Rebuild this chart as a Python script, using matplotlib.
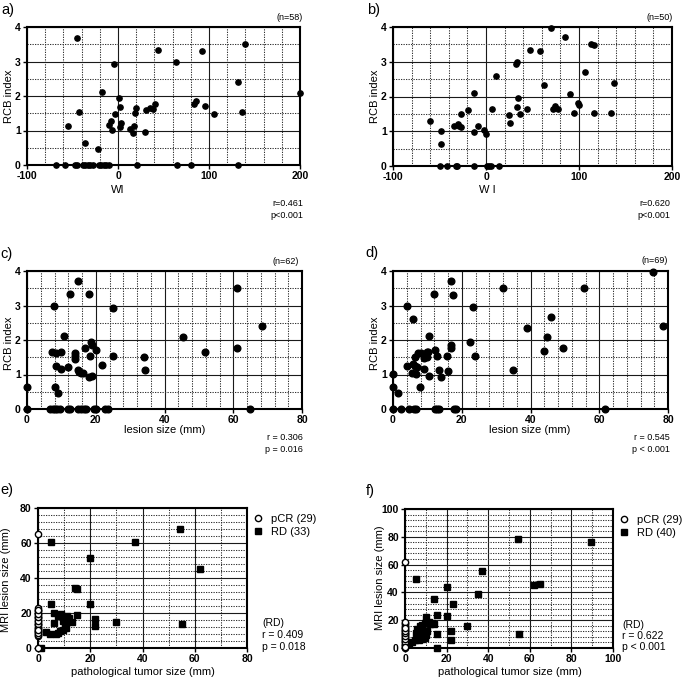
import matplotlib.pyplot as plt
from matplotlib.ticker import MultipleLocator

plt.rcParams['font.family'] = ['Liberation Sans', 'DejaVu Sans']
plt.rcParams['font.weight'] = 'bold'   # tick labels are bold, other texts set to normal
plt.rcParams['axes.unicode_minus'] = False

# a) WI vs RCB index
a_wi = [-45.6, 139.4, 43.8, 92, 63.5, -4.7, 131.4, -17.9, 199.6, 1.5, 84, 85.5, 2.6,
        41.2, 35.4, 38.3, 30.3, 19.3, 19, 95.6, 105.8, 136, -42.7, -2.9, -7.7, 3.3,
        -10.2, -55, 17.2, 2.6, 12.8, -6.6, 16.4, 29.2, -35.8, -21.5,
        -67.9, -58.5, -47.5, -44.9, -38.8, -36.6, -33.3, -30.3, -27.8, -20.5, -18.3,
        -15.7, -13.1, -9.5, 20.4, 65.3, 80.3, 131.4]
a_rcb = [3.69, 3.50, 3.32, 3.30, 2.99, 2.94, 2.40, 2.11, 2.09, 1.95, 1.78, 1.85, 1.67,
         1.76, 1.64, 1.62, 1.60, 1.64, 1.51, 1.71, 1.49, 1.54, 1.53, 1.47, 1.28, 1.23,
         1.15, 1.14, 1.13, 1.11, 1.04, 1.01, 0.93, 0.96, 0.63, 0.47,
         0, 0, 0, 0, 0, 0, 0, 0, 0, 0, 0, 0, 0, 0, 0, 0, 0, 0]

# b) WI vs RCB index
b_wi = [-60, -48.2, -48.9, -34.4, -30.4, -29, -26.8, -27.1, -19.2, -12.7, -12.7, -8.7,
        -1.8, 0, 6.1, 10.8, 24.2, 25.3, 32.6, 33.7, 34.7, 33.6, 36.9, 44.5, 47.7, 57.9,
        62.9, 69.4, 72.3, 74.1, 77.4, 85.4, 90.4, 95.1, 99, 99.8, 106.3, 112.8, 116.5,
        116.5, 134.6, 137.4,
        -49.9, -41.6, -32.5, -31.5, -12.7, 1.4, 3.3, 5.8, 14.1]
b_rcb = [1.30, 1.02, 0.64, 1.14, 1.22, 1.14, 1.11, 1.51, 1.61, 2.11, 0.97, 1.16,
         1.04, 0.93, 1.64, 2.60, 1.47, 1.24, 2.94, 2.98, 1.96, 1.71, 1.51, 1.64, 3.33, 3.31,
         2.33, 3.98, 1.63, 1.73, 1.65, 3.72, 2.07, 1.52, 1.81, 1.76, 2.70, 3.52, 3.47,
         1.53, 1.52, 2.38,
         0, 0, 0, 0, 0, 0, 0, 0, 0]

# c) lesion size vs RCB index
c_size = [14.9, 12.4, 18, 7.9, 24.9, 61, 68.5, 10.8, 45.4, 18.5, 18.9, 17, 20.1, 7.4,
          8.5, 9.9, 13.9, 13.9, 14, 18.4, 24.9, 34, 51.9, 61, 8.5, 9.9, 11.9, 14.95,
          15.2, 15.6, 16.4, 18, 18.8, 21.9, 34.4, 0, 8, 8.9,
          0, 6.8, 7.5, 8.0, 8.7, 9.5, 11.8, 12.6, 14.95, 15.7, 16.5, 17.3, 19.6, 20.2,
          22.8, 23.5, 64.9]
c_rcb = [3.70, 3.33, 3.32, 3.0, 2.94, 3.50, 2.41, 2.11, 2.10, 1.94, 1.85, 1.77, 1.71, 1.64,
         1.61, 1.65, 1.63, 1.55, 1.46, 1.54, 1.54, 1.50, 1.66, 1.78, 1.25, 1.16, 1.21, 1.13,
         1.08, 1.05, 1.04, 0.92, 0.96, 1.28, 1.13, 0.63, 0.63, 0.47,
         0, 0, 0, 0, 0, 0, 0, 0, 0, 0, 0, 0, 0, 0, 0, 0, 0]

# d) lesion size vs RCB index
d_size = [75.7, 16.9, 11.9, 17.5, 31.9, 55.5, 4.0, 23.4, 5.9, 46, 78.4, 39, 44.9, 10.4,
          22.4, 17, 17, 49.5, 43.9, 12.3,
          6.5, 7.3, 8.1, 9.0, 9.8, 10.0, 10.3, 12.7, 15.8, 23.9,
          4.1, 5.9, 6.3, 6.9, 9, 5.6, 6.6, 10.5, 13.4, 14.1, 15.9, 34.9, 0, 0, 1.4, 7.9,
          0, 2.4, 4.6, 6.1, 6.6, 12.1, 12.9, 13.4, 17.8, 18.3, 61.8]
d_rcb = [3.98, 3.71, 3.33, 3.31, 3.50, 3.51, 3.0, 2.95, 2.60, 2.68, 2.42, 2.36, 2.09, 2.11,
         1.95, 1.85, 1.77, 1.78, 1.68, 1.71,
         1.52, 1.62, 1.63, 1.49, 1.50, 1.64, 1.65, 1.54, 1.53, 1.53,
         1.24, 1.29, 1.24, 1.21, 1.15, 1.05, 1.02, 0.96, 1.13, 0.93, 1.11, 1.13, 1.01, 0.63,
         0.47, 0.64,
         0, 0, 0, 0, 0, 0, 0, 0, 0, 0, 0]

# e) pathological tumor size vs MRI lesion size
e_pcr_path = [0] * 29
e_pcr_mri = [65, 0, 7, 8, 9, 10, 11, 12, 13, 14, 15, 16, 17, 18, 19, 20, 21, 22, 23,
             7.5, 9.5, 11.5, 13.5, 15.5, 17.5, 19.5, 21.5, 8.5, 10.5]
e_rd_path = [54.2, 4.9, 37, 20, 62, 14, 15, 5, 20, 15, 22, 22, 30, 55, 13, 6, 7.7, 8.9,
             10, 10.8, 9.6, 10.2, 10.6, 9.6, 8.6, 7.7, 6.8, 6, 4.5, 2.9, 1.2, 11, 12]
e_rd_mri = [68.2, 60.6, 60.8, 51.6, 45.2, 34.3, 33.7, 25, 25, 18.7, 16.4, 12.4, 14.9,
            13.9, 14.9, 20, 18.5, 19.2, 17.7, 16.2, 15.2, 13.3, 11.4, 10.5, 9.5, 8.6, 8,
            14.3, 8.2, 8.9, 0, 18.5, 17]

# f) pathological tumor size vs MRI lesion size
f_pcr_path = [0] * 29
f_pcr_mri = [62, 0, 1, 2, 3, 4, 5, 6, 7, 8, 9, 10, 11, 12, 13, 14, 15, 16, 17, 18, 19,
             2.5, 4.5, 6.5, 8.5, 10.5, 12.5, 14.5, 0.5]
f_rd_path = [54.2, 89.3, 37.2, 5.3, 20.3, 34.9, 62, 65, 14, 23.1, 15.2, 20.3, 10, 30,
             22, 22, 15.2, 15.2, 55, 2, 3.5, 5, 6.5, 8, 9.5, 5.5, 5.7, 7, 8.1, 9.7, 11.3,
             12.9, 8.6, 9.4, 10.7, 7, 10, 12, 14, 6]
f_rd_mri = [78.5, 76.1, 55.5, 49.5, 44, 39, 45, 45.9, 34.9, 31.8, 23.9, 23.2, 22.5, 16,
            12, 5.5, 10.3, 0, 10, 3, 4, 5.5, 6, 6.5, 7.2, 11, 13.6, 15.5, 16.7, 17.9, 18.7,
            17.9, 10.8, 11.9, 11.9, 8.3, 9, 17, 17, 10]

W, H = 685, 681
fig = plt.figure(figsize=(W / 100, H / 100), dpi=100)


def box(l, t, r, b):
    return [l / W, 1 - b / H, (r - l) / W, (b - t) / H]


def ptext(x, y, s, **kw):
    kw.setdefault('fontweight', 'normal')
    fig.text(x / W, 1 - y / H, s, **kw)


def style(ax, xlim, ylim, xmaj, xmin, ymaj, ymin):
    ax.set_xlim(xlim)
    ax.set_ylim(ylim)
    ax.xaxis.set_major_locator(MultipleLocator(xmaj))
    ax.xaxis.set_minor_locator(MultipleLocator(xmin))
    ax.yaxis.set_major_locator(MultipleLocator(ymaj))
    ax.yaxis.set_minor_locator(MultipleLocator(ymin))
    for sp in ax.spines.values():
        sp.set_linewidth(1.5)
    ax.tick_params(which='major', length=3, width=1, labelsize=7.5, pad=1.5)
    ax.tick_params(which='minor', length=0)
    ax.set_axisbelow(True)
    ax.grid(True, which='major', color='#1a1a1a', linewidth=0.8, linestyle='-')
    ax.grid(True, which='minor', color='#333333', linewidth=0.75, linestyle=(0, (1.2, 1.2)))


# ---- a ----
ax = fig.add_axes(box(27, 27, 300, 165))
ax.plot(a_wi, a_rcb, 'o', color='black', ms=3.8, clip_on=False, zorder=5)
style(ax, (-100, 200), (0, 4), 100, 20, 1, 0.5)
ptext(1, 10, 'a)', fontsize=10.5, va='center')
ptext(303, 18, '(n=58)', fontsize=6.5, ha='right', va='center')
ptext(9, 96, 'RCB index', fontsize=8, rotation=90, ha='center', va='center')
ptext(118, 190, 'WI', fontsize=8, ha='center', va='center')
ptext(303, 203, 'r=0.461', fontsize=6.5, ha='right', va='center')
ptext(303, 215, 'p<0.001', fontsize=6.5, ha='right', va='center')

# ---- b ----
ax = fig.add_axes(box(393, 27, 672, 166))
ax.plot(b_wi, b_rcb, 'o', color='black', ms=3.8, clip_on=False, zorder=5)
style(ax, (-100, 200), (0, 4), 100, 20, 1, 0.5)
ptext(367, 10, 'b)', fontsize=10.5, va='center')
ptext(673, 18, '(n=50)', fontsize=6.5, ha='right', va='center')
ptext(375, 96, 'RCB index', fontsize=8, rotation=90, ha='center', va='center')
ptext(487, 190, 'W I', fontsize=8, ha='center', va='center')
ptext(670, 203, 'r=0.620', fontsize=6.5, ha='right', va='center')
ptext(670, 215, 'p<0.001', fontsize=6.5, ha='right', va='center')

# ---- c ----
ax = fig.add_axes(box(27, 271, 302, 409))
ax.plot(c_size, c_rcb, 'o', color='black', ms=4.8, clip_on=False, zorder=5)
style(ax, (0, 80), (0, 4), 20, 4, 1, 0.5)
ptext(0, 254, 'c)', fontsize=10.5, va='center')
ptext(299, 262, '(n=62)', fontsize=6.5, ha='right', va='center')
ptext(9, 343, 'RCB index', fontsize=8, rotation=90, ha='center', va='center')
ptext(165, 430, 'lesion size (mm)', fontsize=8, ha='center', va='center')
ptext(303, 438, 'r = 0.306', fontsize=6.5, ha='right', va='center')
ptext(303, 450, 'p = 0.016', fontsize=6.5, ha='right', va='center')

# ---- d ----
ax = fig.add_axes(box(393, 271, 668, 409))
ax.plot(d_size, d_rcb, 'o', color='black', ms=4.8, clip_on=False, zorder=5)
style(ax, (0, 80), (0, 4), 20, 4, 1, 0.5)
ptext(365, 253, 'd)', fontsize=10.5, va='center')
ptext(668, 260, '(n=69)', fontsize=6.5, ha='right', va='center')
ptext(375, 343, 'RCB index', fontsize=8, rotation=90, ha='center', va='center')
ptext(530, 430, 'lesion size (mm)', fontsize=8, ha='center', va='center')
ptext(670, 438, 'r = 0.545', fontsize=6.5, ha='right', va='center')
ptext(670, 450, 'p < 0.001', fontsize=6.5, ha='right', va='center')

# ---- e ----
ax = fig.add_axes(box(38, 508, 247, 648))
ax.plot(e_pcr_path, e_pcr_mri, 'o', mfc='white', mec='black', mew=1, ms=4.5,
        clip_on=False, zorder=6, label='pCR (29)')
ax.plot(e_rd_path, e_rd_mri, 's', color='black', ms=4.8, clip_on=False, zorder=5,
        label='RD (33)')
style(ax, (0, 80), (0, 80), 20, 10, 20, 4)
ax.legend(loc='upper left', bbox_to_anchor=(1.0, 1.0), frameon=False,
          prop={'size': 8, 'weight': 'normal'},
          handlelength=1.0, handletextpad=0.7, borderaxespad=0.1, labelspacing=0.3)
ptext(0, 490, 'e)', fontsize=10.5, va='center')
ptext(6, 580, 'MRI lesion size (mm)', fontsize=8, rotation=90, ha='center', va='center')
ptext(143, 672, 'pathological tumor size (mm)', fontsize=8, ha='center', va='center')
ptext(262, 623, '(RD)', fontsize=7.5, va='center')
ptext(262, 635, 'r = 0.409', fontsize=7.5, va='center')
ptext(262, 647, 'p = 0.018', fontsize=7.5, va='center')

# ---- f ----
ax = fig.add_axes(box(405, 509, 613, 648))
ax.plot(f_pcr_path, f_pcr_mri, 'o', mfc='white', mec='black', mew=1, ms=4.5,
        clip_on=False, zorder=6, label='pCR (29)')
ax.plot(f_rd_path, f_rd_mri, 's', color='black', ms=4.8, clip_on=False, zorder=5,
        label='RD (40)')
style(ax, (0, 100), (0, 100), 20, 10, 20, 4)
ax.legend(loc='upper left', bbox_to_anchor=(1.0, 1.0), frameon=False,
          prop={'size': 8, 'weight': 'normal'},
          handlelength=1.0, handletextpad=0.7, borderaxespad=0.1, labelspacing=0.3)
ptext(366, 491, 'f)', fontsize=10.5, va='center')
ptext(380, 578, 'MRI lesion size (mm)', fontsize=8, rotation=90, ha='center', va='center')
ptext(510, 672, 'pathological tumor size (mm)', fontsize=8, ha='center', va='center')
ptext(622, 625, '(RD)', fontsize=7.5, va='center')
ptext(622, 636, 'r = 0.622', fontsize=7.5, va='center')
ptext(622, 647, 'p < 0.001', fontsize=7.5, va='center')

fig.savefig('out.png', dpi=100)
